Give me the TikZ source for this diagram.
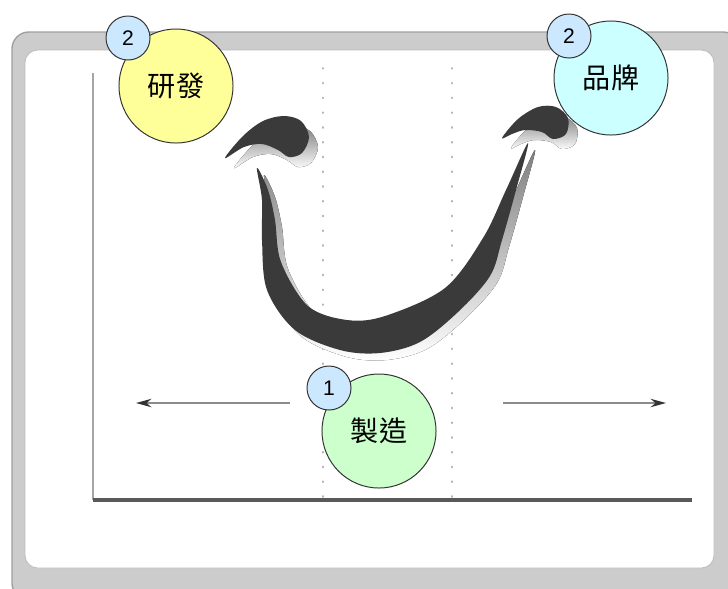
\documentclass[tikz,border=0pt]{standalone}
\usepackage{fontspec}
\setmainfont{Liberation Sans}
\newfontfamily\cjk{Noto Sans CJK TC}
\usetikzlibrary{arrows.meta}

\definecolor{framegray}{RGB}{204,204,204}
\definecolor{framedark}{RGB}{160,160,160}
\definecolor{ink}{RGB}{58,58,58}
\definecolor{shade}{RGB}{200,200,200}
\definecolor{rdyellow}{RGB}{255,255,153}
\definecolor{brandcyan}{RGB}{204,255,255}
\definecolor{makegreen}{RGB}{204,255,204}
\definecolor{badgeblue}{RGB}{204,232,255}

\begin{document}
\begin{tikzpicture}[x=0.025cm, y=-0.025cm,
    stage/.style={circle, draw=black!80, line width=0.7pt, minimum size=2.85cm, inner sep=0pt, font=\cjk\fontsize{20}{20}\selectfont},
    badge/.style={circle, draw=black!80, line width=0.7pt, fill=badgeblue, minimum size=1.1cm, inner sep=0pt, font=\fontsize{15}{15}\selectfont},
    trend/.style={draw=black!45, line width=1pt, -{Stealth[length=11pt, width=6pt, color=black!80]}},
    guide/.style={draw=black!30, line width=1.4pt, dash pattern=on 0.5pt off 10pt, line cap=round}
]
    \useasboundingbox (0,0) rectangle (728,588);
    \clip (0,0) rectangle (728,588);

    % Board frame
    \fill[framegray, draw=framedark, line width=1pt, rounded corners=12pt] (12,32) rectangle (740,600);
    \fill[white, draw=framedark!70, line width=0.6pt, rounded corners=9pt] (25,50) rectangle (714,568);

    % Axes and dotted guides
    \coordinate (origin) at (93,500);
    \coordinate (ytop) at (93,73);
    \coordinate (xend) at (692,500);
    \draw[black!35, line width=1.4pt] (ytop) -- (origin);
    \foreach \gx in {323,452} {
        \coordinate (gtop\gx) at (\gx,68);
        \coordinate (gbot\gx) at (\gx,498);
        \draw[guide] (gtop\gx) -- (gbot\gx);
    }
    \draw[black!65, line width=2.6pt] (origin) -- (xend);

    % Smile curve with its shadow
    \foreach \dx/\col in {7/shade, 0/ink} {
        \fill[\col, shift={(\dx,\dx)}] plot[smooth cycle, tension=0.55] coordinates {
            (257,168) (262,200) (262,240) (267,290) (295,330) (340,350) (380,353)
            (420,342) (458,312) (490,276) (502,240) (516,190) (528,143)
            (506,190) (483,238) (445,288) (385,316) (347,320) (308,306)
            (281,262) (275,220) (268,190)};
    }
    % Brows with their shadows
    \foreach \dx/\dy/\col in {9/10/shade, 0/0/ink} {
        \fill[\col, shift={(\dx,\dy)}] plot[smooth cycle, tension=0.55] coordinates {
            (225,158) (243,136) (263,121) (284,116) (301,121) (309,137)
            (302,153) (289,157) (278,150) (262,144) (244,147)};
        \fill[\col, shift={(\dx,\dy)}] plot[smooth cycle, tension=0.55] coordinates {
            (502,138) (518,119) (538,107) (556,107) (568,118) (566,134)
            (553,139) (542,132) (525,130) (512,134)};
    }

    % Trend arrows
    \coordinate (lstart) at (290,403);
    \coordinate (lend) at (136,403);
    \coordinate (rstart) at (503,403);
    \coordinate (rend) at (666,403);
    \draw[trend] (lstart) -- (lend);
    \draw[trend] (rstart) -- (rend);

    % Stages
    \node[stage, fill=rdyellow] (rnd) at (176,86) {研發};
    \node[stage, fill=brandcyan] (brand) at (611,78) {品牌};
    \node[stage, fill=makegreen] (make) at (379,431) {製造};

    \node[badge] (rndnum) at (128,38) {2};
    \node[badge] (brandnum) at (569,36) {2};
    \node[badge] (makenum) at (329,388) {1};

\end{tikzpicture}
\end{document}
